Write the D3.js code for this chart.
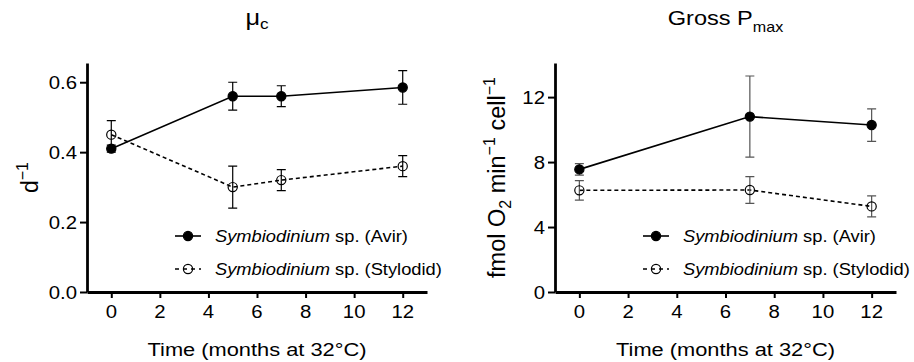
<!DOCTYPE html>
<html>
<head>
<meta charset="utf-8">
<script src="https://cdn.jsdelivr.net/npm/d3@7"></script>
<style>
  body { margin: 0; background: #fff; }
  svg { display: block; font-family: "Liberation Sans", Arial, sans-serif; }
</style>
</head>
<body>
<svg id="chart" width="914" height="362"></svg>
<script>
// data
var muMonths = [0, 5, 7, 12];
var muAvir = [0.41, 0.56, 0.56, 0.585];
var muAvirErr = [0.01, 0.04, 0.03, 0.048];
var muStylo = [0.45, 0.30, 0.32, 0.36];
var muStyloErr = [0.04, 0.06, 0.03, 0.03];

var pMonths = [0, 7, 12];
var pAvir = [7.55, 10.8, 10.28];
var pAvirErr = [0.35, 2.5, 1.0];
var pStylo = [6.26, 6.28, 5.27];
var pStyloErr = [0.6, 0.82, 0.65];

var xTicks = [0, 2, 4, 6, 8, 10, 12];
var muTicks = [0, 0.2, 0.4, 0.6];
var pTicks = [0, 4, 8, 12];
var legendNames = ["Avir", "Stylodid"];

var svg = d3.select("#chart");

// text in the original is a bit wide, so stretch it sideways
function wideText(parent, x, y, sx) {
	return parent.append("g")
		.attr("transform", "translate(" + x + "," + y + ") scale(" + sx + ",1)")
		.append("text");
}

function drawPanel(opt) {
	var left = opt.left, right = opt.right, top = 63, bottom = 292;
	var x = d3.scaleLinear().domain([-1, 13]).range([left, right]);
	var y = d3.scaleLinear().domain([0, opt.yMax]).range([bottom, top]);
	var g = svg.append("g");

	// axes
	var xa = g.append("g")
		.attr("transform", "translate(0," + bottom + ")")
		.call(d3.axisBottom(x).tickValues(xTicks).tickSize(6).tickSizeOuter(0).tickFormat(""));
	var ya = g.append("g")
		.attr("transform", "translate(" + left + ",0)")
		.call(d3.axisLeft(y).tickValues(opt.yTicks).tickSize(7).tickSizeOuter(0).tickFormat(""));
	[xa, ya].forEach(function(a) {
		a.select(".domain").attr("stroke", "#000").attr("stroke-width", 2.8);
		a.selectAll(".tick line").attr("stroke", "#000").attr("stroke-width", 2);
	});

	// tick labels
	xTicks.forEach(function(t) {
		wideText(g, x(t), 318, 1.1)
			.attr("text-anchor", "middle")
			.attr("font-size", 18.5)
			.text(t);
	});
	opt.yTicks.forEach(function(t) {
		wideText(g, left - 10, y(t) + 6.5, 1.1)
			.attr("text-anchor", "end")
			.attr("font-size", 18.5)
			.text(opt.fmt(t));
	});

	// x title
	wideText(g, (left + right) / 2, 356, 1.18)
		.attr("text-anchor", "middle")
		.attr("font-size", 18.5)
		.text("Time (months at 32\u00B0C)");

	// series
	var line = d3.line().x(function(d) { return x(d[0]); }).y(function(d) { return y(d[1]); });
	var series = [
		{ v: opt.avir, e: opt.avirErr, dash: null, fill: "#000" },
		{ v: opt.stylo, e: opt.styloErr, dash: "4,3", fill: "none" }
	];
	series.forEach(function(s) {
		var pts = opt.months.map(function(m, i) { return [m, s.v[i], s.e[i]]; });
		g.append("path")
			.datum(pts)
			.attr("d", line)
			.attr("fill", "none")
			.attr("stroke", "#000")
			.attr("stroke-width", 1.6)
			.attr("stroke-dasharray", s.dash);
		pts.forEach(function(p) {
			var cx = x(p[0]), y0 = y(p[1] - p[2]), y1 = y(p[1] + p[2]);
			g.append("path")
				.attr("d", "M" + cx + "," + y0 + "V" + y1 +
					"M" + (cx - 4.5) + "," + y0 + "H" + (cx + 4.5) +
					"M" + (cx - 4.5) + "," + y1 + "H" + (cx + 4.5))
				.attr("fill", "none")
				.attr("stroke", opt.errColor)
				.attr("stroke-width", 1.2);
		});
		pts.forEach(function(p) {
			g.append("circle")
				.attr("cx", x(p[0]))
				.attr("cy", y(p[1]))
				.attr("r", 4.6)
				.attr("fill", s.fill)
				.attr("stroke", "#000")
				.attr("stroke-width", 1.2);
		});
	});

	// legend
	series.forEach(function(s, i) {
		var ly = 236 + i * 33;
		g.append("line")
			.attr("x1", left + 88).attr("x2", left + 114)
			.attr("y1", ly).attr("y2", ly)
			.attr("stroke", "#000")
			.attr("stroke-width", 1.6)
			.attr("stroke-dasharray", s.dash ? "4,4" : null);
		g.append("circle")
			.attr("cx", left + 101).attr("cy", ly)
			.attr("r", 4.6)
			.attr("fill", s.fill)
			.attr("stroke", "#000")
			.attr("stroke-width", 1.2);
		var t = wideText(g, left + 128, ly + 6, 1.11)
			.attr("font-size", 16.5);
		t.append("tspan").attr("font-style", "italic").text("Symbiodinium");
		t.append("tspan").text(" sp. (" + legendNames[i] + ")");
	});

	// panel title
	var title = wideText(g, (left + right) / 2, 25, 1.15)
		.attr("text-anchor", "middle")
		.attr("font-size", 20.5);
	opt.title(title);

	// y title
	var yt = g.append("text")
		.attr("transform", "translate(" + opt.yLabelX + "," + ((top + bottom) / 2) + ") rotate(-90)")
		.attr("text-anchor", "middle")
		.attr("font-size", opt.yLabelSize);
	opt.yLabel(yt);
}

drawPanel({
	left: 87, right: 427, yMax: 0.655, yTicks: muTicks,
	fmt: d3.format(".1f"),
	months: muMonths, avir: muAvir, avirErr: muAvirErr, stylo: muStylo, styloErr: muStyloErr,
	errColor: "#000",
	yLabelX: 38, yLabelSize: 23,
	title: function(t) {
		t.append("tspan").attr("font-size", 22).text("\u03BC");
		t.append("tspan").attr("font-size", 15).attr("dy", 4).text("c");
	},
	yLabel: function(t) {
		t.append("tspan").text("d");
		t.append("tspan").attr("font-size", 16).attr("dy", -10).text("\u22121");
	}
});

drawPanel({
	left: 555, right: 896, yMax: 14.1, yTicks: pTicks,
	fmt: d3.format("d"),
	months: pMonths, avir: pAvir, avirErr: pAvirErr, stylo: pStylo, styloErr: pStyloErr,
	errColor: "#555",
	yLabelX: 505, yLabelSize: 23.5,
	title: function(t) {
		t.append("tspan").text("Gross P");
		t.append("tspan").attr("font-size", 14).attr("dy", 7).text("max");
	},
	yLabel: function(t) {
		t.append("tspan").text("fmol O");
		t.append("tspan").attr("font-size", 16).attr("dy", 6).text("2");
		t.append("tspan").attr("dy", -6).text(" min");
		t.append("tspan").attr("font-size", 16).attr("dy", -10).text("\u22121");
		t.append("tspan").attr("dy", 10).text(" cell");
		t.append("tspan").attr("font-size", 16).attr("dy", -10).text("\u22121");
	}
});
</script>
</body>
</html>
